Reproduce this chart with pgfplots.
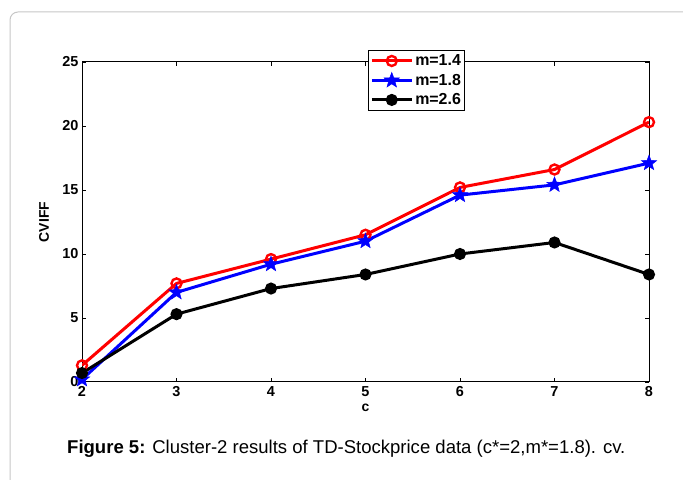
\documentclass[border=0pt]{standalone}
\usepackage{pgfplots}
\pgfplotsset{compat=1.18}
\usepackage{fontspec}
\setmainfont{Liberation Sans}
\pgfdeclareplotmark{pstar}{%
  \pgfpathmoveto{\pgfpointpolar{90}{\pgfplotmarksize}}%
  \pgfpathlineto{\pgfpointpolar{126}{0.42\pgfplotmarksize}}%
  \pgfpathlineto{\pgfpointpolar{162}{\pgfplotmarksize}}%
  \pgfpathlineto{\pgfpointpolar{198}{0.42\pgfplotmarksize}}%
  \pgfpathlineto{\pgfpointpolar{234}{\pgfplotmarksize}}%
  \pgfpathlineto{\pgfpointpolar{270}{0.42\pgfplotmarksize}}%
  \pgfpathlineto{\pgfpointpolar{306}{\pgfplotmarksize}}%
  \pgfpathlineto{\pgfpointpolar{342}{0.42\pgfplotmarksize}}%
  \pgfpathlineto{\pgfpointpolar{18}{\pgfplotmarksize}}%
  \pgfpathlineto{\pgfpointpolar{54}{0.42\pgfplotmarksize}}%
  \pgfpathclose
  \pgfusepathqfillstroke}
\begin{document}
\begin{tikzpicture}[x=1bp,y=1bp]
\useasboundingbox (0,0) rectangle (683,480);
\draw[gray!45, line width=1bp, rounded corners=8bp] (10,468) rectangle (720,-30);
\begin{axis}[
  at={(82bp,98bp)}, anchor=south west,
  scale only axis, width=567bp, height=320bp,
  xmin=2, xmax=8, ymin=0, ymax=25,
  xtick={2,3,4,5,6,7,8}, ytick={0,5,10,15,20,25},
  tick align=inside, major tick length=4bp,
  tick style={black, line width=0.6bp},
  axis line style={line width=1bp},
  /pgf/number format/assume math mode=true,
  tick label style={font=\bfseries\fontsize{14.5}{14.5}\selectfont},
  xticklabel style={yshift=-1bp},
  xlabel={c}, ylabel={CVIFF},
  label style={font=\bfseries\fontsize{14}{14}\selectfont},
  xlabel style={at={(axis description cs:0.5,0)}, anchor=center, yshift=-26bp},
  ylabel style={at={(axis description cs:-0.067,0.5)}, anchor=center},
  legend style={at={(axis description cs:0.504,1.0375)}, anchor=north west,
    font=\bfseries\fontsize{16}{16}\selectfont, draw=black, line width=1bp,
    inner sep=2bp, row sep=2.5bp,
    cells={anchor=west, text height=11.5bp, text depth=3.5bp}},
  legend cell align=left,
  legend image code/.code={\draw[#1] (0bp,0bp) -- (40bp,0bp); \draw[#1, mark repeat=1] plot coordinates {(20bp,0bp)};},
]
\addplot[red, line width=3bp, mark=o, mark size=5bp, mark options={line width=2.4bp, solid}]
coordinates {(2,1.3) (3,7.7) (4,9.6) (5,11.5) (6,15.2) (7,16.6) (8,20.3)};
\addlegendentry{m=1.4}
\addplot[blue, line width=3bp, mark=pstar, mark size=8bp, mark options={fill=blue, line width=0.5bp, solid}]
coordinates {(2,0.2) (3,7.0) (4,9.2) (5,11.0) (6,14.6) (7,15.4) (8,17.1)};
\addlegendentry{m=1.8}
\addplot[black, line width=3bp, mark=*, mark size=4.5bp, mark options={solid}]
coordinates {(2,0.7) (3,5.3) (4,7.3) (5,8.4) (6,10.0) (7,10.9) (8,8.4)};
\addlegendentry{m=2.6}
\end{axis}
\node[anchor=west, inner sep=0pt, font=\fontsize{18.6}{18.6}\selectfont] at (67,31)
  {\textbf{Figure 5:} Cluster-2 results of TD-Stockprice data (c*=2,m*=1.8). cv.};
\end{tikzpicture}
\end{document}
